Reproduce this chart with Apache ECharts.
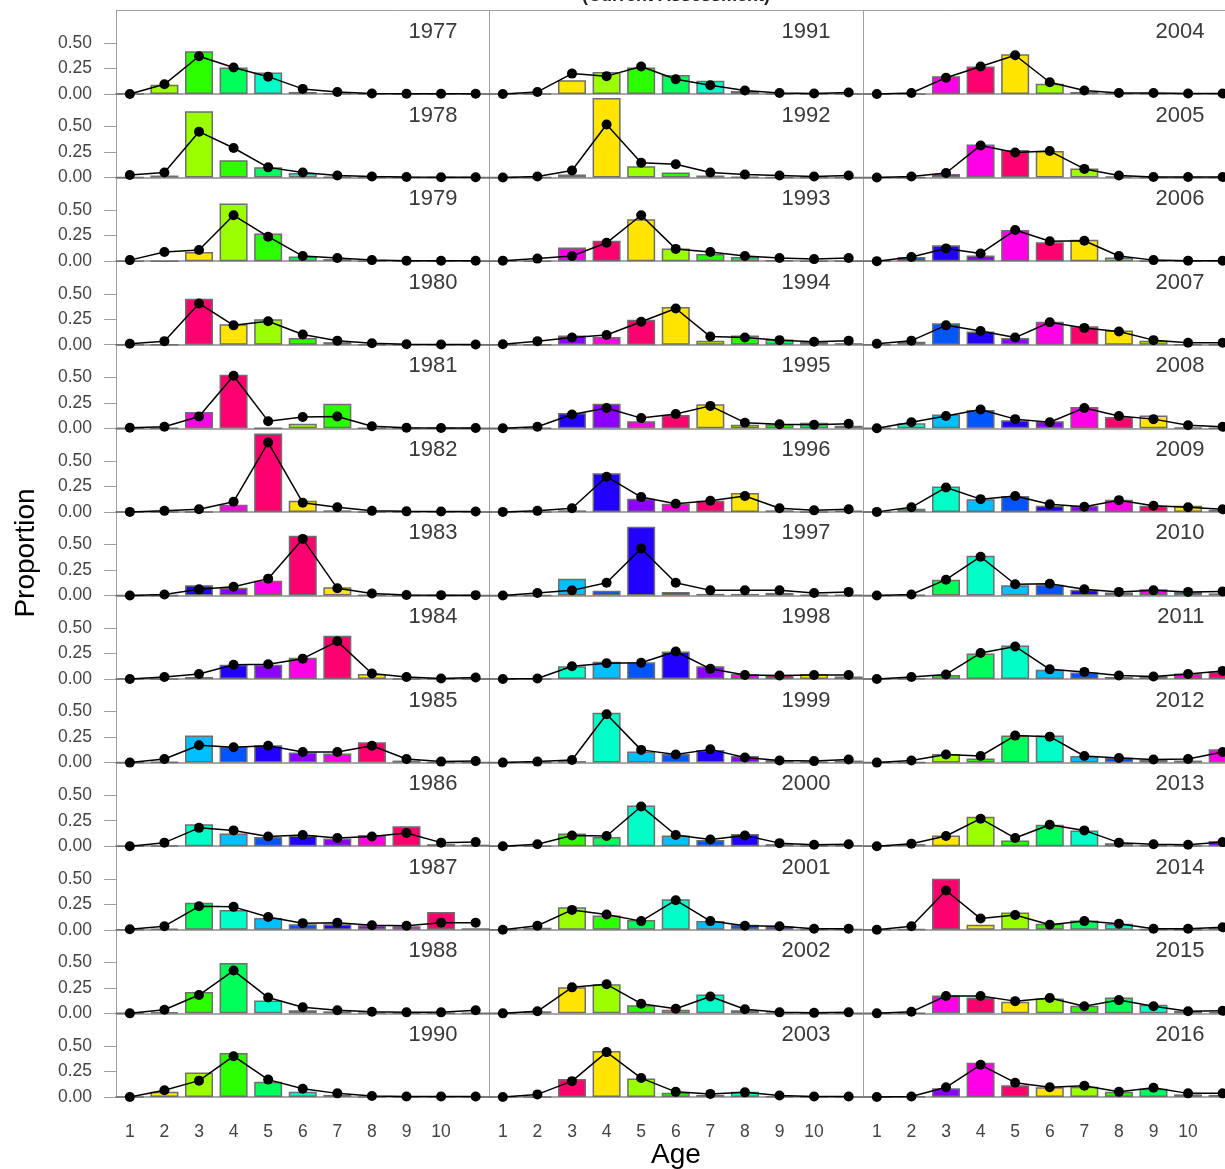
<!DOCTYPE html>
<html>
<head>
<meta charset="utf-8">
<script src="https://cdn.jsdelivr.net/npm/echarts@6/dist/echarts.min.js"></script>
<style>
  html, body { margin: 0; padding: 0; background: #ffffff; }
  #chart { width: 1225px; height: 1169px; }
</style>
</head>
<body>
<div id="chart"></div>
<script>
// Catch-at-age composition by year: observed proportions (bars) and model fit (line + points)
const years = [1977, 1978, 1979, 1980, 1981, 1982, 1983, 1984, 1985, 1986, 1987, 1988, 1990,
               1991, 1992, 1993, 1994, 1995, 1996, 1997, 1998, 1999, 2000, 2001, 2002, 2003,
               2004, 2005, 2006, 2007, 2008, 2009, 2010, 2011, 2012, 2013, 2014, 2015, 2016];
const ages = [1, 2, 3, 4, 5, 6, 7, 8, 9, 10, 11];
const ageTickLabels = [1, 2, 3, 4, 5, 6, 7, 8, 9, 10];
const proportionTicks = [0, 0.25, 0.5];

// cohort colours, cycled along the diagonals (panel index - age)
const cohortPalette = ['#FF006E', '#FF00E6', '#8C00FF', '#2200FF', '#0055FF', '#00BFFF',
                       '#00FFC8', '#00FF5A', '#2BFF00', '#9BFF00', '#FFE500'];

const obs1977 = [0, 0.09, 0.42, 0.26, 0.21, 0.02, 0.005, 0, 0, 0, 0];
const fit1977 = [0, 0.095, 0.37, 0.26, 0.17, 0.05, 0.02, 0.005, 0.003, 0.002, 0.002];
const obs1978 = [0, 0.02, 0.65, 0.17, 0.10, 0.045, 0.005, 0, 0, 0, 0];
const fit1978 = [0.025, 0.05, 0.45, 0.29, 0.10, 0.05, 0.02, 0.01, 0.005, 0.003, 0.003];
const obs1979 = [0, 0, 0.09, 0.565, 0.27, 0.045, 0.02, 0, 0, 0, 0];
const fit1979 = [0.01, 0.09, 0.11, 0.45, 0.24, 0.05, 0.03, 0.01, 0.005, 0.003, 0.003];
const obs1980 = [0, 0, 0.45, 0.20, 0.25, 0.065, 0.025, 0, 0, 0, 0];
const fit1980 = [0.01, 0.035, 0.405, 0.19, 0.23, 0.10, 0.04, 0.015, 0.005, 0.003, 0.003];
const obs1981 = [0, 0, 0.16, 0.525, 0, 0.045, 0.24, 0, 0, 0, 0];
const fit1981 = [0.005, 0.015, 0.115, 0.515, 0.07, 0.11, 0.115, 0.02, 0.005, 0.003, 0.003];
const obs1982 = [0, 0, 0, 0.07, 0.77, 0.11, 0.015, 0, 0, 0, 0];
const fit1982 = [0, 0.01, 0.025, 0.10, 0.68, 0.09, 0.045, 0.01, 0.005, 0.003, 0.003];
const obs1983 = [0, 0, 0.10, 0.075, 0.145, 0.585, 0.08, 0.005, 0, 0, 0];
const fit1983 = [0, 0.01, 0.06, 0.085, 0.165, 0.555, 0.07, 0.02, 0.005, 0.003, 0.003];
const obs1984 = [0, 0, 0.02, 0.14, 0.14, 0.21, 0.425, 0.05, 0, 0, 0];
const fit1984 = [0, 0.02, 0.05, 0.14, 0.145, 0.20, 0.37, 0.055, 0.02, 0.005, 0.015];
const obs1985 = [0, 0.005, 0.265, 0.155, 0.17, 0.10, 0.09, 0.20, 0.02, 0, 0];
const fit1985 = [0, 0.035, 0.17, 0.15, 0.165, 0.105, 0.105, 0.165, 0.035, 0.01, 0.015];
const obs1986 = [0, 0.005, 0.215, 0.125, 0.09, 0.105, 0.075, 0.11, 0.195, 0.02, 0.015];
const fit1986 = [0, 0.035, 0.18, 0.155, 0.095, 0.11, 0.08, 0.095, 0.13, 0.035, 0.04];
const obs1987 = [0, 0.01, 0.265, 0.195, 0.115, 0.055, 0.055, 0.045, 0.035, 0.175, 0.015];
const fit1987 = [0.005, 0.035, 0.23, 0.225, 0.125, 0.065, 0.07, 0.045, 0.04, 0.07, 0.07];
const obs1988 = [0, 0.01, 0.21, 0.495, 0.125, 0.03, 0.02, 0.005, 0, 0, 0];
const fit1988 = [0, 0.035, 0.18, 0.42, 0.155, 0.06, 0.03, 0.015, 0.01, 0.01, 0.03];
const obs1990 = [0, 0.05, 0.24, 0.43, 0.15, 0.05, 0.02, 0, 0, 0, 0];
const fit1990 = [0, 0.065, 0.16, 0.40, 0.17, 0.08, 0.035, 0.01, 0.005, 0.005, 0.005];
const obs1991 = [0, 0, 0.135, 0.215, 0.26, 0.185, 0.13, 0.03, 0, 0, 0];
const fit1991 = [0, 0.02, 0.20, 0.175, 0.27, 0.145, 0.085, 0.035, 0.01, 0.005, 0.015];
const obs1992 = [0, 0, 0.03, 0.78, 0.11, 0.05, 0.02, 0.005, 0, 0, 0];
const fit1992 = [0, 0.01, 0.07, 0.52, 0.145, 0.13, 0.05, 0.03, 0.02, 0.01, 0.02];
const obs1993 = [0, 0, 0.135, 0.20, 0.41, 0.125, 0.07, 0.04, 0.01, 0, 0];
const fit1993 = [0.005, 0.025, 0.05, 0.18, 0.45, 0.12, 0.09, 0.05, 0.03, 0.02, 0.03];
const obs1994 = [0, 0, 0.09, 0.075, 0.245, 0.37, 0.04, 0.09, 0.05, 0.03, 0.015];
const fit1994 = [0.005, 0.035, 0.07, 0.095, 0.225, 0.355, 0.08, 0.07, 0.045, 0.03, 0.04];
const obs1995 = [0, 0, 0.15, 0.24, 0.07, 0.13, 0.235, 0.035, 0.04, 0.055, 0.025];
const fit1995 = [0, 0.015, 0.135, 0.20, 0.10, 0.14, 0.22, 0.055, 0.04, 0.035, 0.045];
const obs1996 = [0, 0, 0.015, 0.38, 0.13, 0.08, 0.11, 0.185, 0.015, 0, 0.01];
const fit1996 = [0, 0.01, 0.035, 0.345, 0.145, 0.08, 0.11, 0.155, 0.035, 0.015, 0.025];
const obs1997 = [0, 0, 0.165, 0.045, 0.675, 0.035, 0.015, 0.015, 0.025, 0.005, 0.005];
const fit1997 = [0, 0.025, 0.05, 0.125, 0.46, 0.125, 0.05, 0.05, 0.05, 0.025, 0.035];
const obs1998 = [0, 0, 0.125, 0.17, 0.165, 0.27, 0.125, 0.05, 0.04, 0.05, 0.025];
const fit1998 = [0, 0.005, 0.125, 0.155, 0.16, 0.27, 0.10, 0.04, 0.035, 0.04, 0.04];
const obs1999 = [0, 0, 0.015, 0.49, 0.11, 0.085, 0.125, 0.065, 0.025, 0.005, 0.02];
const fit1999 = [0, 0.01, 0.025, 0.475, 0.125, 0.08, 0.13, 0.05, 0.02, 0.015, 0.03];
const obs2000 = [0, 0, 0.125, 0.09, 0.40, 0.105, 0.06, 0.12, 0.02, 0.005, 0.01];
const fit2000 = [0, 0.02, 0.105, 0.10, 0.39, 0.11, 0.065, 0.105, 0.03, 0.015, 0.02];
const obs2001 = [0, 0.02, 0.22, 0.14, 0.095, 0.30, 0.085, 0.05, 0.035, 0.005, 0.005];
const fit2001 = [0, 0.04, 0.195, 0.15, 0.085, 0.29, 0.085, 0.04, 0.035, 0.01, 0.01];
const obs2002 = [0, 0.02, 0.255, 0.285, 0.08, 0.035, 0.185, 0.03, 0.005, 0, 0];
const fit2002 = [0, 0.02, 0.255, 0.285, 0.095, 0.045, 0.165, 0.04, 0.01, 0.005, 0.01];
const obs2003 = [0, 0, 0.175, 0.45, 0.18, 0.04, 0.02, 0.05, 0.005, 0, 0];
const fit2003 = [0, 0.025, 0.155, 0.44, 0.185, 0.05, 0.03, 0.045, 0.015, 0.005, 0.005];
const obs2004 = [0, 0, 0.175, 0.27, 0.39, 0.10, 0.02, 0.005, 0.005, 0.005, 0.005];
const fit2004 = [0, 0.01, 0.16, 0.27, 0.38, 0.115, 0.035, 0.01, 0.01, 0.005, 0.005];
const obs2005 = [0, 0, 0.035, 0.325, 0.27, 0.26, 0.09, 0.01, 0, 0, 0];
const fit2005 = [0, 0.01, 0.045, 0.315, 0.245, 0.26, 0.085, 0.02, 0.005, 0.005, 0.005];
const obs2006 = [0, 0.04, 0.155, 0.055, 0.305, 0.185, 0.21, 0.035, 0, 0, 0];
const fit2006 = [0, 0.04, 0.125, 0.075, 0.305, 0.195, 0.20, 0.05, 0.01, 0.005, 0.005];
const obs2007 = [0, 0.03, 0.21, 0.13, 0.065, 0.225, 0.18, 0.14, 0.04, 0, 0];
const fit2007 = [0.01, 0.04, 0.19, 0.135, 0.07, 0.22, 0.165, 0.13, 0.045, 0.02, 0.02];
const obs2008 = [0, 0.05, 0.135, 0.18, 0.08, 0.07, 0.21, 0.11, 0.125, 0.005, 0];
const fit2008 = [0, 0.06, 0.12, 0.185, 0.09, 0.06, 0.20, 0.12, 0.09, 0.03, 0.015];
const obs2009 = [0, 0.03, 0.25, 0.125, 0.155, 0.06, 0.06, 0.12, 0.06, 0.06, 0.02];
const fit2009 = [0, 0.045, 0.24, 0.125, 0.155, 0.075, 0.05, 0.115, 0.06, 0.045, 0.025];
const obs2010 = [0, 0.005, 0.155, 0.39, 0.10, 0.105, 0.055, 0.03, 0.06, 0.035, 0.02];
const fit2010 = [0, 0.01, 0.155, 0.38, 0.11, 0.115, 0.06, 0.035, 0.05, 0.035, 0.04];
const obs2011 = [0, 0.005, 0.04, 0.25, 0.33, 0.09, 0.065, 0.02, 0.03, 0.055, 0.075];
const fit2011 = [0, 0.02, 0.045, 0.255, 0.32, 0.095, 0.07, 0.035, 0.025, 0.05, 0.08];
const obs2012 = [0, 0, 0.085, 0.04, 0.265, 0.265, 0.065, 0.05, 0.03, 0.02, 0.13];
const fit2012 = [0, 0.02, 0.08, 0.065, 0.265, 0.255, 0.065, 0.045, 0.03, 0.035, 0.105];
const obs2013 = [0, 0.02, 0.105, 0.29, 0.055, 0.21, 0.155, 0.03, 0.01, 0.005, 0.05];
const fit2013 = [0, 0.025, 0.10, 0.27, 0.08, 0.21, 0.155, 0.035, 0.02, 0.015, 0.04];
const obs2014 = [0, 0.005, 0.50, 0.05, 0.17, 0.06, 0.09, 0.06, 0.005, 0, 0.02];
const fit2014 = [0, 0.035, 0.385, 0.11, 0.145, 0.05, 0.085, 0.06, 0.01, 0.01, 0.025];
const obs2015 = [0, 0, 0.175, 0.155, 0.115, 0.145, 0.075, 0.155, 0.085, 0.025, 0.01];
const fit2015 = [0, 0.015, 0.17, 0.17, 0.12, 0.15, 0.07, 0.13, 0.07, 0.02, 0.025];
const obs2016 = [0, 0.005, 0.085, 0.335, 0.115, 0.095, 0.10, 0.05, 0.08, 0.025, 0.02];
const fit2016 = [0, 0.005, 0.095, 0.315, 0.14, 0.095, 0.11, 0.05, 0.09, 0.035, 0.035];

const observedByPanel = [
  obs1977, obs1978, obs1979, obs1980, obs1981, obs1982, obs1983, obs1984, obs1985, obs1986, obs1987, obs1988, obs1990,
  obs1991, obs1992, obs1993, obs1994, obs1995, obs1996, obs1997, obs1998, obs1999, obs2000, obs2001, obs2002, obs2003,
  obs2004, obs2005, obs2006, obs2007, obs2008, obs2009, obs2010, obs2011, obs2012, obs2013, obs2014, obs2015, obs2016
];
const fittedByPanel = [
  fit1977, fit1978, fit1979, fit1980, fit1981, fit1982, fit1983, fit1984, fit1985, fit1986, fit1987, fit1988, fit1990,
  fit1991, fit1992, fit1993, fit1994, fit1995, fit1996, fit1997, fit1998, fit1999, fit2000, fit2001, fit2002, fit2003,
  fit2004, fit2005, fit2006, fit2007, fit2008, fit2009, fit2010, fit2011, fit2012, fit2013, fit2014, fit2015, fit2016
];

// ---- layout ----
const ROWS = 13;
const COL_LEFT = [116, 489, 863];
const COL_WIDTH = 373.5;
const TOP = 10.4;
const ROW_H = 83.58;
const Y_MAX = 0.82;
const FONT = '"Liberation Sans", Arial, sans-serif';

function cohortColor(panelIdx, age) {
  const k = (((panelIdx - age) % 11) + 11) % 11;
  return cohortPalette[k];
}

const grid = [], xAxis = [], yAxis = [], series = [], graphic = [];

years.forEach((year, idx) => {
  const col = Math.floor(idx / ROWS);
  const row = idx % ROWS;
  const left = COL_LEFT[col];
  const top = TOP + row * ROW_H;
  const bottomRow = row === ROWS - 1;

  grid.push({ left: left, top: top, width: COL_WIDTH, height: ROW_H, containLabel: false, outerBoundsMode: 'none' });

  xAxis.push({
    type: 'value', gridIndex: idx, min: 0.6, max: 11.4,
    axisLine: { show: true, onZero: false, lineStyle: { color: '#8c8c8c', width: 1.5 } },
    axisTick: { show: false },
    splitLine: { show: false },
    axisLabel: {
      show: bottomRow, customValues: ageTickLabels, margin: 26,
      fontFamily: FONT, fontSize: 17.5, color: '#444444'
    }
  });

  yAxis.push({
    type: 'value', gridIndex: idx, min: 0, max: Y_MAX,
    axisLine: { show: true, lineStyle: { color: '#a0a0a0', width: 1 } },
    axisTick: { show: col === 0, customValues: proportionTicks, length: 12, lineStyle: { color: '#a0a0a0', width: 1 } },
    splitLine: { show: false },
    axisLabel: {
      show: col === 0, customValues: proportionTicks, margin: 24,
      formatter: v => v.toFixed(2),
      fontFamily: FONT, fontSize: 17.5, color: '#444444'
    }
  });

  const obs = observedByPanel[idx];
  const fit = fittedByPanel[idx];

  series.push({
    type: 'bar', xAxisIndex: idx, yAxisIndex: idx, barWidth: 28, z: 2,
    itemStyle: { borderColor: '#6e6e6e', borderWidth: 1.5 },
    data: ages.map((a, i) => ({ value: [a, obs[i]], itemStyle: { color: cohortColor(idx, a) } }))
  });

  series.push({
    type: 'line', xAxisIndex: idx, yAxisIndex: idx, z: 5, clip: false,
    symbol: 'circle', symbolSize: 10,
    itemStyle: { color: '#000000' },
    lineStyle: { color: '#000000', width: 1.5 },
    data: ages.map((a, i) => [a, fit[i]])
  });

  graphic.push({
    type: 'text', x: left + COL_WIDTH - 32, y: top + 21.5, z: 10,
    style: { text: String(year), fontFamily: FONT, fontSize: 22, fill: '#3a3a3a', align: 'right', verticalAlign: 'middle' }
  });
});

// outer frame top edge
graphic.push({ type: 'line', z: 1, shape: { x1: 116, y1: 10.5, x2: 1225, y2: 10.5 }, style: { stroke: '#a0a0a0', lineWidth: 1 } });
// titles
graphic.push({
  type: 'text', x: 676, y: -4, z: 10,
  style: { text: '(Current Assessment)', fontFamily: FONT, fontSize: 18, fontWeight: 'bold', fill: '#222', align: 'center', verticalAlign: 'middle' }
});
graphic.push({
  type: 'text', x: 676, y: 1155, z: 10,
  style: { text: 'Age', fontFamily: FONT, fontSize: 28, fill: '#000', align: 'center', verticalAlign: 'middle' }
});
graphic.push({
  type: 'text', x: 26, y: 553, rotation: Math.PI / 2, z: 10,
  style: { text: 'Proportion', fontFamily: FONT, fontSize: 28, fill: '#000', align: 'center', verticalAlign: 'middle' }
});

const chart = echarts.init(document.getElementById('chart'), null, { renderer: 'canvas' });
chart.setOption({
  backgroundColor: '#ffffff',
  animation: false,
  grid: grid,
  xAxis: xAxis,
  yAxis: yAxis,
  series: series,
  graphic: graphic
});
</script>
</body>
</html>
